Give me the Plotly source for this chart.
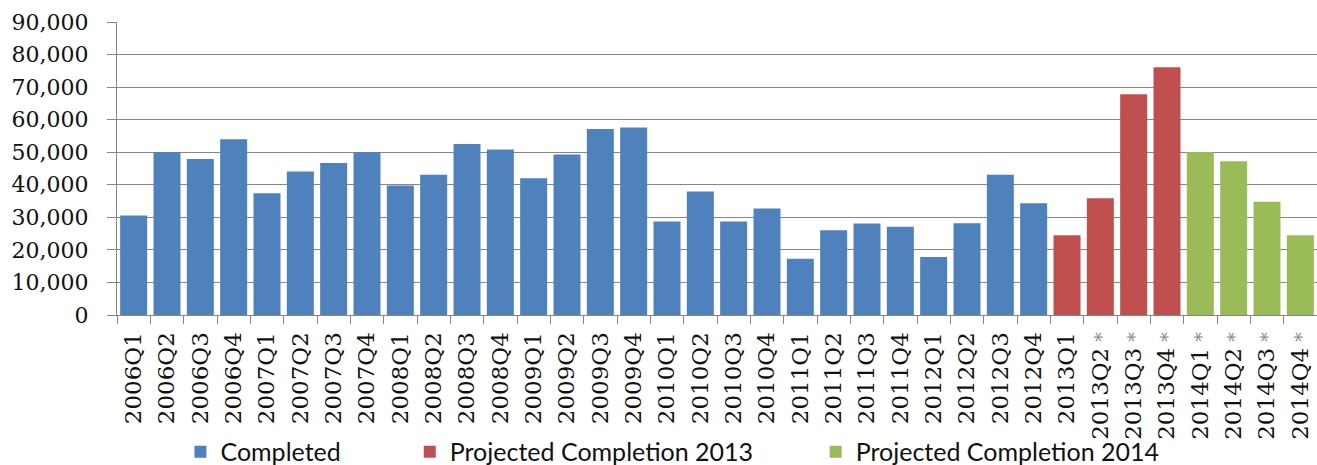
import plotly.graph_objects as go

quarters = [
    "2006Q1", "2006Q2", "2006Q3", "2006Q4",
    "2007Q1", "2007Q2", "2007Q3", "2007Q4",
    "2008Q1", "2008Q2", "2008Q3", "2008Q4",
    "2009Q1", "2009Q2", "2009Q3", "2009Q4",
    "2010Q1", "2010Q2", "2010Q3", "2010Q4",
    "2011Q1", "2011Q2", "2011Q3", "2011Q4",
    "2012Q1", "2012Q2", "2012Q3", "2012Q4",
    "2013Q1", "2013Q2", "2013Q3", "2013Q4",
    "2014Q1", "2014Q2", "2014Q3", "2014Q4",
]
starred = ["2013Q2", "2013Q3", "2013Q4", "2014Q1", "2014Q2", "2014Q3", "2014Q4"]

completed_x = quarters[:28]
completed_y = [
    30600, 50100, 47900, 54000,
    37400, 44100, 46700, 50100,
    39800, 43100, 52500, 50800,
    42000, 49300, 57100, 57600,
    28700, 37900, 28700, 32700,
    17300, 26000, 28100, 27100,
    17800, 28200, 43100, 34300,
]
proj2013_x = quarters[28:32]
proj2013_y = [24500, 35900, 67800, 76100]
proj2014_x = quarters[32:36]
proj2014_y = [50100, 47200, 34800, 24500]

y_ticks = [0, 10000, 20000, 30000, 40000, 50000, 60000, 70000, 80000, 90000]

series_names = ["Completed", "Projected Completion 2013", "Projected Completion 2014"]
series_colors = ["#4F81BD", "#C0504D", "#9BBB59"]
legend_pads = [10, 9, 0]

tick_text = [
    (q + '<span style="font-size:19px;color:#8a8a8a"> *</span>') if q in starred else q
    for q in quarters
]

fig = go.Figure()
for xs, ys, nm, col, p in zip([completed_x, proj2013_x, proj2014_x],
                              [completed_y, proj2013_y, proj2014_y],
                              series_names, series_colors, legend_pads):
    fig.add_trace(go.Bar(x=xs, y=ys, name=nm + "&nbsp;" * p,
                         marker=dict(color=col, line=dict(width=0))))

fig.update_layout(
    width=1317, height=465,
    margin=dict(l=117, r=0, t=22, b=150),
    paper_bgcolor="white", plot_bgcolor="white",
    barmode="overlay", bargap=0.19,
    showlegend=True,
    legend=dict(orientation="h", xref="container", yref="container",
                x=0.137, xanchor="left", y=0.028, yanchor="middle",
                bgcolor="rgba(0,0,0,0)",
                font=dict(family="Lato", size=25, color="#111"),
                traceorder="normal", itemwidth=30),
    font=dict(family="DejaVu Serif", color="#111"),
)
fig.update_xaxes(
    type="category", categoryorder="array", categoryarray=quarters,
    tickvals=quarters, ticktext=tick_text, tickangle=-90,
    tickson="boundaries", ticks="outside", ticklen=8, tickcolor="#868686", tickwidth=1,
    showline=True, linecolor="#868686", linewidth=1,
    showgrid=False, tickfont=dict(family="DejaVu Serif", size=23, color="#111"),
    range=[-0.5, 35.5], fixedrange=True, automargin=False,
    ticklabelstandoff=7,
)
fig.update_yaxes(
    range=[0, 90000], tickvals=y_ticks, tickformat=",d",
    ticks="outside", ticklen=9, tickcolor="#868686", tickwidth=1,
    showline=True, linecolor="#868686", linewidth=1,
    showgrid=True, gridcolor="#868686", gridwidth=1,
    zeroline=False, automargin=False,
    tickfont=dict(family="DejaVu Serif", size=22, color="#111"),
    ticklabelstandoff=14,
)

fig.write_html("out.html")
